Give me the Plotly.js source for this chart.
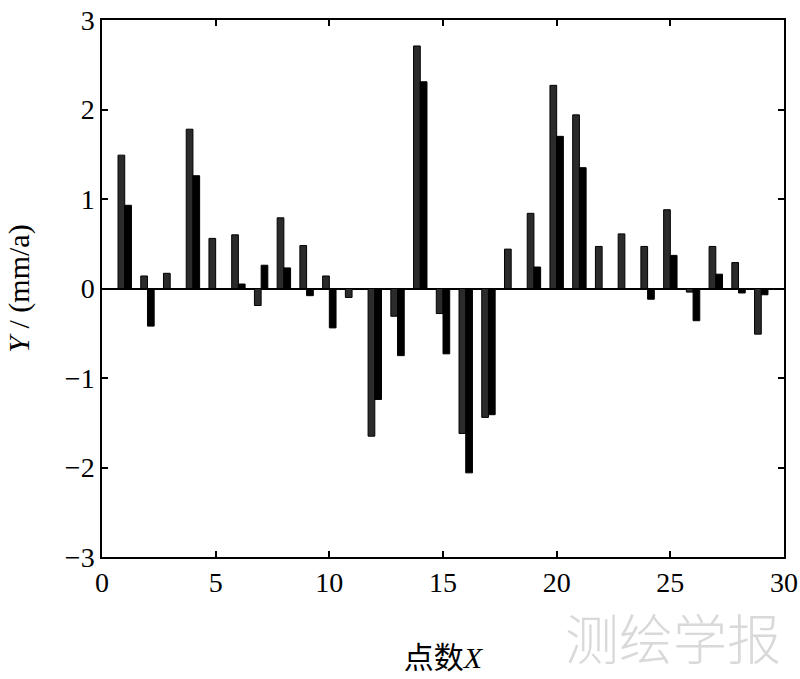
<!DOCTYPE html>
<html>
<head>
<meta charset="utf-8">
<script src="https://cdn.plot.ly/plotly-3.0.1.min.js"></script>
<style>
  html, body { margin: 0; padding: 0; background: #fff; }
  #myPlot { width: 800px; height: 679px; }
</style>
</head>
<body>
<div id="myPlot"></div>
<script>
// point index along the x axis
const points = [1, 2, 3, 4, 5, 6, 7, 8, 9, 10, 11, 12, 13, 14, 15, 16, 17, 18, 19, 20, 21, 22, 23, 24, 25, 26, 27, 28, 29];
// first series (grey bars, left of each pair)
const seriesA = [1.49, 0.14, 0.17, 1.78, 0.56, 0.60, -0.19, 0.79, 0.48, 0.14,
                 -0.10, -1.65, -0.31, 2.71, -0.28, -1.62, -1.44, 0.44, 0.84, 2.27,
                 1.94, 0.47, 0.61, 0.47, 0.88, -0.04, 0.47, 0.29, -0.51];
// second series (black bars, right of each pair)
const seriesB = [0.93, -0.42, 0.0, 1.26, 0.0, 0.05, 0.26, 0.23, -0.08, -0.44,
                 0.0, -1.24, -0.75, 2.31, -0.73, -2.06, -1.41, 0.0, 0.24, 1.70,
                 1.35, 0.0, 0.0, -0.12, 0.37, -0.36, 0.16, -0.05, -0.07];
const xTicks = [0, 5, 10, 15, 20, 25, 30];
const yTicks = [-3, -2, -1, 0, 1, 2, 3];

const serif = '"Liberation Serif", "Times New Roman", "Noto Sans CJK SC", serif';

const data = [
  {
    type: 'bar',
    x: points,
    y: seriesA,
    marker: { color: '#2b2b2b', line: { color: '#000', width: 1 } },
    name: 'A'
  },
  {
    type: 'bar',
    x: points,
    y: seriesB,
    marker: { color: '#000', line: { color: '#000', width: 1 } },
    name: 'B'
  }
];

const axisCommon = {
  showline: true,
  linecolor: '#000',
  linewidth: 1.5,
  mirror: 'ticks',
  ticks: 'inside',
  ticklen: 6,
  tickwidth: 1.5,
  tickcolor: '#000',
  showgrid: false,
  tickfont: { family: serif, size: 28, color: '#000' }
};

const layout = {
  width: 800,
  height: 679,
  margin: { l: 102, r: 16, t: 20, b: 122 },
  paper_bgcolor: '#fff',
  plot_bgcolor: '#fff',
  showlegend: false,
  barmode: 'group',
  bargap: 0.41,
  bargroupgap: 0,
  xaxis: Object.assign({}, axisCommon, {
    range: [0, 30],
    tickvals: xTicks,
    zeroline: false,
    title: { text: '点数<i>X</i>', font: { family: serif, size: 30, color: '#000' }, standoff: 50 }
  }),
  yaxis: Object.assign({}, axisCommon, {
    range: [-3, 3],
    tickvals: yTicks,
    zeroline: true,
    zerolinecolor: '#000',
    zerolinewidth: 1.5,
    title: { text: '<i>Y</i> / (mm/a)', font: { family: serif, size: 30, color: '#000' }, standoff: 26 }
  }),
  annotations: [{
    // journal watermark
    xref: 'paper', yref: 'paper',
    x: 0.998, y: -0.07,
    xanchor: 'right', yanchor: 'top',
    text: '测绘学报',
    showarrow: false,
    font: { family: '"Noto Sans CJK SC", sans-serif', size: 54, weight: 300, color: '#d9d9d9' }
  }]
};

Plotly.newPlot('myPlot', data, layout, { displayModeBar: false });
</script>
</body>
</html>
